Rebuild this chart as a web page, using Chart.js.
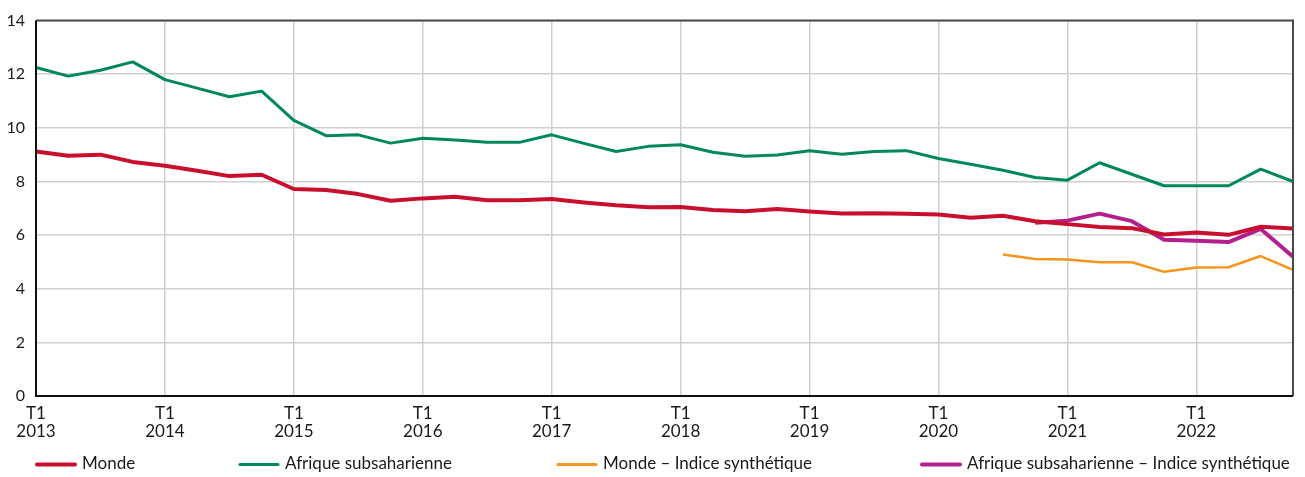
<!DOCTYPE html>
<html lang="fr">
<head>
<meta charset="utf-8">
<script src="https://cdn.jsdelivr.net/npm/chart.js@4/dist/chart.umd.min.js"></script>
<style>
  html, body { margin: 0; padding: 0; background: #fff; }
  #wrap { position: relative; width: 1305px; height: 477px; }
</style>
</head>
<body>
<div id="wrap"><canvas id="c" width="1305" height="477"></canvas></div>
<script>
// Quarterly series, T1 2013 to T4 2022
const years = [2013, 2014, 2015, 2016, 2017, 2018, 2019, 2020, 2021, 2022];
const quarters = ['T1', 'T2', 'T3', 'T4'];

const monde = [
  9.12, 8.96, 9.00, 8.73,
  8.59, 8.40, 8.20, 8.25,
  7.72, 7.68, 7.53, 7.28,
  7.37, 7.43, 7.30, 7.30,
  7.35, 7.22, 7.11, 7.04,
  7.05, 6.94, 6.89, 6.97,
  6.88, 6.81, 6.82, 6.80,
  6.77, 6.65, 6.72, 6.52,
  6.41, 6.30, 6.26, 6.02,
  6.10, 6.01, 6.31, 6.25
];

const afrique = [
  12.25, 11.93, 12.15, 12.46,
  11.80, 11.48, 11.16, 11.37,
  10.28, 9.71, 9.74, 9.43,
  9.61, 9.55, 9.46, 9.46,
  9.74, 9.42, 9.12, 9.31,
  9.37, 9.09, 8.94, 8.99,
  9.15, 9.02, 9.12, 9.15,
  8.86, 8.64, 8.42, 8.15,
  8.05, 8.70, 8.27, 7.84,
  7.84, 7.84, 8.46, 8.00
];

const mondeIndice = [
  null, null, null, null,
  null, null, null, null,
  null, null, null, null,
  null, null, null, null,
  null, null, null, null,
  null, null, null, null,
  null, null, null, null,
  null, null, 5.28, 5.11,
  5.09, 4.99, 4.99, 4.63,
  4.79, 4.80, 5.22, 4.70
];

const afriqueIndice = [
  null, null, null, null,
  null, null, null, null,
  null, null, null, null,
  null, null, null, null,
  null, null, null, null,
  null, null, null, null,
  null, null, null, null,
  null, null, null, 6.46,
  6.54, 6.80, 6.52, 5.83,
  5.79, 5.74, 6.23, 5.19
];

const yTicks = [0, 2, 4, 6, 8, 10, 12, 14];

const labels = [];
years.forEach(y => quarters.forEach(q => labels.push(q + ' ' + y)));

const FONT = "Lato, 'Open Sans', sans-serif";
const C_MONDE = '#c8102e';
const C_AFR = '#00875a';
const C_MONDE_IND = '#f7941d';
const C_AFR_IND = '#b41f8e';

const legendItems = [
  { text: 'Monde', color: C_MONDE, width: 4, x: 36 },
  { text: 'Afrique subsaharienne', color: C_AFR, width: 3, x: 239 },
  { text: 'Monde – Indice synthétique', color: C_MONDE_IND, width: 3, x: 557 },
  { text: 'Afrique subsaharienne – Indice synthétique', color: C_AFR_IND, width: 4, x: 921 }
];

// Frame around the plot area: dark top/right edges
const framePlugin = {
  id: 'frame',
  afterDatasetsDraw(chart) {
    const { ctx, chartArea: a } = chart;
    ctx.save();
    ctx.lineWidth = 2;
    ctx.strokeStyle = '#4a4a4a';
    ctx.beginPath();
    ctx.moveTo(a.left, a.top);
    ctx.lineTo(a.right, a.top);
    ctx.lineTo(a.right, a.bottom);
    ctx.stroke();
    ctx.strokeStyle = '#111';
    ctx.beginPath();
    ctx.moveTo(a.left, a.top);
    ctx.lineTo(a.left, a.bottom);
    ctx.lineTo(a.right, a.bottom);
    ctx.stroke();
    ctx.restore();
  }
};

// Legend row below the axis
const legendPlugin = {
  id: 'rowLegend',
  afterDraw(chart) {
    const ctx = chart.ctx;
    const y = 464.5;
    ctx.save();
    ctx.font = '17px ' + FONT;
    ctx.textBaseline = 'middle';
    ctx.fillStyle = '#1a1a1a';
    legendItems.forEach(it => {
      ctx.strokeStyle = it.color;
      ctx.lineWidth = it.width;
      ctx.lineCap = 'round';
      ctx.beginPath();
      ctx.moveTo(it.x + 1, y);
      ctx.lineTo(it.x + 39, y);
      ctx.stroke();
      ctx.fillText(it.text, it.x + 46, y - 1);
    });
    ctx.restore();
  }
};

const lineDs = (label, data, color, width) => ({
  label, data,
  borderColor: color,
  backgroundColor: color,
  borderWidth: width,
  pointRadius: 0,
  pointHoverRadius: 0,
  tension: 0,
  spanGaps: false,
  borderJoinStyle: 'round',
  borderCapStyle: 'butt'
});

new Chart(document.getElementById('c'), {
  type: 'line',
  data: {
    labels,
    datasets: [
      lineDs('Afrique subsaharienne', afrique, C_AFR, 3),
      lineDs('Monde – Indice synthétique', mondeIndice, C_MONDE_IND, 2.5),
      lineDs('Monde', monde, C_MONDE, 4),
      lineDs('Afrique subsaharienne – Indice synthétique', afriqueIndice, C_AFR_IND, 4)
    ]
  },
  options: {
    responsive: false,
    animation: false,
    events: [],
    layout: { padding: { left: 0, right: 12, top: 8, bottom: 0 } },
    plugins: {
      legend: { display: false },
      tooltip: { enabled: false }
    },
    scales: {
      x: {
        type: 'category',
        offset: false,
        border: { display: false },
        grid: {
          color: ctx => (ctx.index % 4 === 0 && ctx.index > 0) ? '#d0d0d0' : 'rgba(0,0,0,0)',
          lineWidth: 1.5,
          drawTicks: false
        },
        ticks: {
          autoSkip: false,
          maxRotation: 0,
          padding: 8,
          color: '#1a1a1a',
          font: { family: FONT, size: 17, lineHeight: 1.08 },
          callback: (v, i) => i % 4 === 0 ? [quarters[0], String(years[i / 4])] : ''
        },
        afterFit: s => { s.height = 81; }
      },
      y: {
        min: 0,
        max: 14,
        border: { display: false },
        afterBuildTicks: s => { s.ticks = yTicks.map(v => ({ value: v })); },
        grid: { color: '#d0d0d0', lineWidth: 1.5, drawTicks: false },
        ticks: {
          padding: 11,
          color: '#1a1a1a',
          font: { family: FONT, size: 16 }
        },
        afterFit: s => { s.width = 36; }
      }
    }
  },
  plugins: [framePlugin, legendPlugin]
});
</script>
</body>
</html>
